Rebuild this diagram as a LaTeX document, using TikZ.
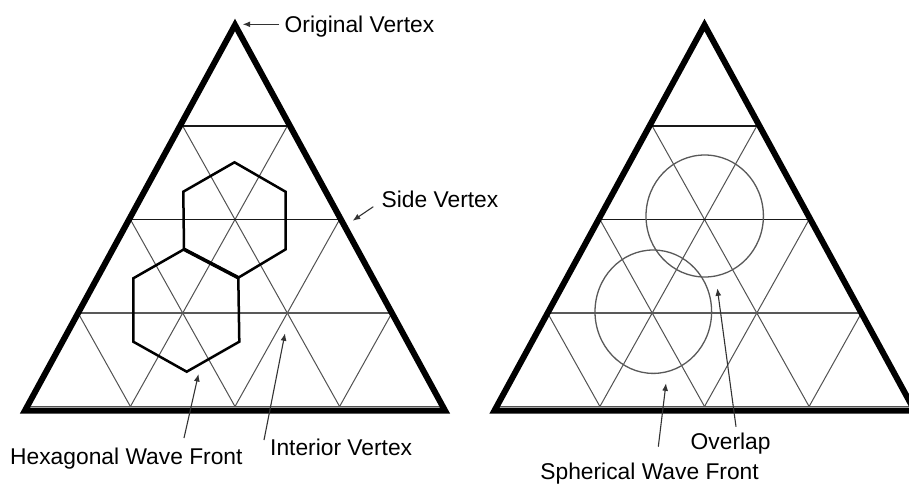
\documentclass[tikz,border=0pt]{standalone}
\usepackage{fontspec}
\setmainfont{Liberation Sans}
\usetikzlibrary{arrows.meta}
\tikzset{
 outline/.style={line width=6pt, line join=miter, black},
 hline/.style={line width=1.4pt, black!90},
 hlinelow/.style={line width=1.1pt, black!65},
 dline/.style={line width=1pt, black!68},
 hexa/.style={line width=2.5pt, black, line join=miter},
 wave/.style={line width=1.3pt, black!65},
 lbl/.style={anchor=base west, inner sep=0pt, font=\fontsize{22.8}{27}\selectfont},
 pointer/.style={line width=1.1pt, black!80, -{Latex[length=7.5pt,width=6pt]}},
}
\begin{document}
\begin{tikzpicture}[x=1pt,y=-1pt]
\useasboundingbox (0,0) rectangle (909,485);
\fill[white] (0,0) rectangle (909,485);
\clip (0,0) rectangle (909,485);
\foreach \dx in {0,469.5}{
 \begin{scope}[xshift=\dx pt]
  % diagonals
  \draw[dline] (182.7,126) -- (339.6,406.5);
  \draw[dline] (130.4,219.5) -- (235,406.5);
  \draw[dline] (78.1,313) -- (130.4,406.5);
  \draw[dline] (287.3,126) -- (130.4,406.5);
  \draw[dline] (339.6,219.5) -- (235,406.5);
  \draw[dline] (391.9,313) -- (339.6,406.5);
  % horizontals
  \draw[hline] (182.7,126) -- (287.3,126);
  \draw[hline] (130.4,219.5) -- (339.6,219.5);
  \draw[hlinelow] (78.1,313) -- (391.9,313);
  \draw[dline] (25.8,406.5) -- (444.2,406.5);
  % outline
  \draw[outline] (235,25) -- (445,410.5) -- (25,410.5) -- cycle;
 \end{scope}
}
% hexagons
\coordinate (u1) at (234.5,162.3);
\coordinate (u2) at (285.5,191.7);
\coordinate (u3) at (285.7,249.3);
\coordinate (u4) at (238.3,277.7);
\coordinate (u5) at (184,249.3);
\coordinate (u6) at (183.3,191.7);
\coordinate (l3) at (239.3,341.7);
\coordinate (l4) at (186.7,371.7);
\coordinate (l5) at (133.3,341.7);
\coordinate (l6) at (133.3,278.3);
\draw[hexa] (u1) -- (u2) -- (u3) -- (u4) -- (u5) -- (u6) -- cycle;
\draw[hexa] (u5) -- (u4) -- (l3) -- (l4) -- (l5) -- (l6) -- cycle;
\draw[line width=3.6pt] (u5) -- (u4);
% circles
\draw[wave] (704.7,216) ellipse [x radius=58.7pt, y radius=61pt];
\draw[wave] (653.3,311.7) ellipse [x radius=58.3pt, y radius=61.7pt];
% labels
\node[lbl] (tOV) at (284.5,32.3) {Original Vertex};
\node[lbl] (tSV) at (381.5,207.3) {Side Vertex};
\node[lbl] (tHW) at (10,464) {Hexagonal Wave Front};
\node[lbl] (tIV) at (270,455) {Interior Vertex};
\node[lbl] (tOL) at (690.5,449.3) {Overlap};
\node[lbl] (tSW) at (540.2,479.5) {Spherical Wave Front};
% pointers
\coordinate (aOV0) at (279,24.3);   \coordinate (aOV1) at (242.7,24.3);
\coordinate (aSV0) at (373.3,206.7); \coordinate (aSV1) at (352.7,220.7);
\coordinate (aHW0) at (184,438);    \coordinate (aHW1) at (198.5,374);
\coordinate (aIV0) at (264,440);    \coordinate (aIV1) at (285,333.3);
\coordinate (aOL0) at (736,426.7);  \coordinate (aOL1) at (717.3,288.3);
\coordinate (aSW0) at (658.3,446.7); \coordinate (aSW1) at (666,383.3);
\draw[pointer] (aOV0) -- (aOV1);
\draw[pointer] (aSV0) -- (aSV1);
\draw[pointer] (aHW0) -- (aHW1);
\draw[pointer] (aIV0) -- (aIV1);
\draw[pointer] (aOL0) -- (aOL1);
\draw[pointer] (aSW0) -- (aSW1);
\end{tikzpicture}
\end{document}
